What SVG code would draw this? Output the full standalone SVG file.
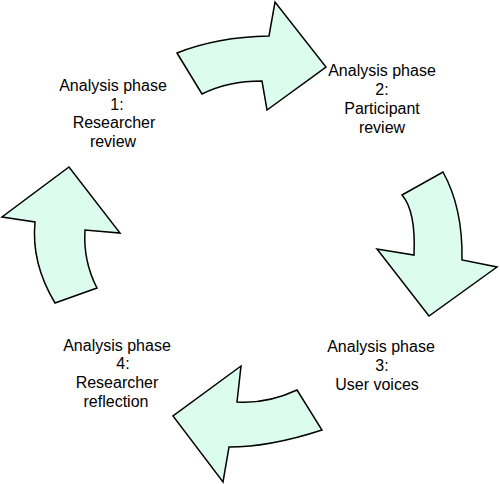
<svg xmlns="http://www.w3.org/2000/svg" width="500" height="484" viewBox="0 0 500 484">
  <style>
    .arrow { fill: #dcfcee; stroke: #000; stroke-width: 1.5; stroke-linejoin: miter; }
    .lbl { font-family: "Liberation Sans", Arial, sans-serif; font-size: 16px; fill: #000; text-anchor: middle; }
  </style>
  <rect width="500" height="484" fill="#fff"/>
  <g id="connectors">
    <path id="arrow1" class="arrow" d="M177,53 Q217,37 269,36 L275,2 L326,67 L267,110 L262,81 Q228,81 202,94 Z"/>
    <path id="arrow2" class="arrow" d="M402,195 L443,172 Q463,208 462,260 L497,267 L429,316 L377,249 L414,255 Q416,211 402,195 Z"/>
    <path id="arrow3" class="arrow" d="M297,390 L322,430 Q270,447 229,447 L223,482 L173,416 L241,366 L237,402 Q267,404 297,390 Z"/>
    <path id="arrow4" class="arrow" d="M55,303 L97,288 Q83,261 85,230 L120,233 L69,167 L2,217 L35,222 Q31,263 55,303 Z"/>
  </g>
  <g id="phase1">
    <text class="lbl" x="113" y="91">Analysis phase</text>
    <text class="lbl" x="117" y="110">1:</text>
    <text class="lbl" x="114" y="128">Researcher</text>
    <text class="lbl" x="113" y="147">review</text>
  </g>
  <g id="phase2">
    <text class="lbl" x="382" y="76">Analysis phase</text>
    <text class="lbl" x="382" y="95">2:</text>
    <text class="lbl" x="382" y="114">Participant</text>
    <text class="lbl" x="382" y="133">review</text>
  </g>
  <g id="phase3">
    <text class="lbl" x="381" y="352">Analysis phase</text>
    <text class="lbl" x="382" y="371">3:</text>
    <text class="lbl" x="377" y="390">User voices</text>
  </g>
  <g id="phase4">
    <text class="lbl" x="117" y="351">Analysis phase</text>
    <text class="lbl" x="123" y="369">4:</text>
    <text class="lbl" x="117" y="388">Researcher</text>
    <text class="lbl" x="116" y="407">reflection</text>
  </g>
</svg>
